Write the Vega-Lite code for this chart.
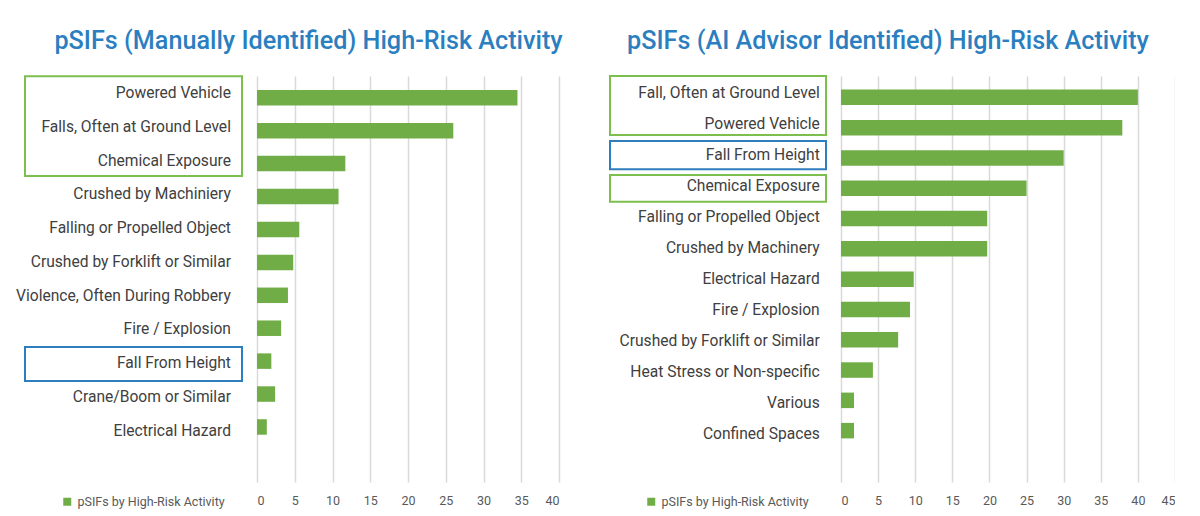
{
  "$schema": "https://vega.github.io/schema/vega-lite/v6.json",
  "background": "white",
  "padding": {"left": 16, "top": 28, "right": 0, "bottom": 0},
  "spacing": 46,
  "resolve": {"scale": {"color": "independent"}, "legend": {"color": "independent"}},
  "config": {
    "view": {"stroke": null},
    "title": {"font": "Roboto", "fontSize": 25.2, "fontWeight": 500, "color": "#2b7fc0", "anchor": "middle", "offset": 21},
    "text": {"font": "Roboto"}
  },
  "datasets": {
    "manual": [
      {"activity": "Powered Vehicle", "row": 0, "count": 34.5},
      {"activity": "Falls, Often at Ground Level", "row": 1, "count": 26},
      {"activity": "Chemical Exposure", "row": 2, "count": 11.7},
      {"activity": "Crushed by Machiniery", "row": 3, "count": 10.8},
      {"activity": "Falling or Propelled Object", "row": 4, "count": 5.6},
      {"activity": "Crushed by Forklift or Similar", "row": 5, "count": 4.8},
      {"activity": "Violence, Often During Robbery", "row": 6, "count": 4.1},
      {"activity": "Fire / Explosion", "row": 7, "count": 3.2},
      {"activity": "Fall From Height", "row": 8, "count": 1.9},
      {"activity": "Crane/Boom or Similar", "row": 9, "count": 2.4},
      {"activity": "Electrical Hazard", "row": 10, "count": 1.3}
    ],
    "manualBoxes": [
      {"group": "highlight", "from": -0.5, "to": 2.45},
      {"group": "fallFromHeight", "from": 7.52, "to": 8.53}
    ],
    "ai": [
      {"activity": "Fall, Often at Ground Level", "row": 0, "count": 40},
      {"activity": "Powered Vehicle", "row": 1, "count": 37.9},
      {"activity": "Fall From Height", "row": 2, "count": 30},
      {"activity": "Chemical Exposure", "row": 3, "count": 25},
      {"activity": "Falling or Propelled Object", "row": 4, "count": 19.7},
      {"activity": "Crushed by Machinery", "row": 5, "count": 19.7},
      {"activity": "Electrical Hazard", "row": 6, "count": 9.8},
      {"activity": "Fire / Explosion", "row": 7, "count": 9.3},
      {"activity": "Crushed by Forklift or Similar", "row": 8, "count": 7.7},
      {"activity": "Heat Stress or Non-specific", "row": 9, "count": 4.3},
      {"activity": "Various", "row": 10, "count": 1.75},
      {"activity": "Confined Spaces", "row": 11, "count": 1.75}
    ],
    "aiBoxes": [
      {"group": "highlight", "from": -0.54, "to": 1.36},
      {"group": "fallFromHeight", "from": 1.55, "to": 2.46},
      {"group": "highlight", "from": 2.65, "to": 3.51}
    ]
  },
  "hconcat": [
    {
      "title": {"text": "pSIFs (Manually Identified) High-Risk Activity", "dx": 21},
      "bounds": "flush",
      "spacing": 15,
      "resolve": {"scale": {"color": "independent"}, "legend": {"color": "independent"}},
      "hconcat": [
        {
          "width": 217,
          "height": 406,
          "layer": [
            {
              "data": {"name": "manualBoxes"},
              "mark": {"type": "rect", "fillOpacity": 0, "strokeWidth": 2},
              "encoding": {
                "y": {"field": "from", "type": "quantitative", "scale": {"domain": [-0.51, 11.52], "reverse": true, "nice": false, "zero": false}, "axis": null},
                "y2": {"field": "to"},
                "x": {"datum": 0, "type": "quantitative", "scale": {"domain": [0, 100], "nice": false}, "axis": null},
                "x2": {"datum": 100},
                "stroke": {"field": "group", "type": "nominal", "scale": {"domain": ["highlight", "fallFromHeight"], "range": ["#7dbf4f", "#2e7dbd"]}, "legend": null}
              }
            },
            {
              "data": {"name": "manual"},
              "mark": {"type": "text", "align": "right", "baseline": "middle", "font": "Roboto", "fontSize": 15.6, "color": "#404040"},
              "encoding": {
                "y": {"field": "row", "type": "quantitative"},
                "x": {"datum": 94.9, "type": "quantitative"},
                "text": {"field": "activity"}
              }
            }
          ]
        },
        {
          "width": 302,
          "height": 406,
          "data": {"name": "manual"},
          "mark": {"type": "bar", "orient": "horizontal", "size": 15.5},
          "encoding": {
            "y": {"field": "row", "type": "quantitative", "scale": {"domain": [-0.51, 11.52], "reverse": true, "nice": false, "zero": false}, "axis": null},
            "x": {"field": "count", "type": "quantitative", "scale": {"domain": [0, 40], "nice": false},
              "axis": {"values": [0, 5, 10, 15, 20, 25, 30, 35, 40], "grid": true, "domain": false, "ticks": false, "title": null, "labelPadding": 12, "labelFontSize": 12.5, "labelFont": "Roboto", "labelColor": "#595959", "gridColor": "#d9d9d9", "gridWidth": 1.5}},
            "color": {"datum": "pSIFs by High-Risk Activity", "type": "nominal", "scale": {"range": ["#70ad47"]},
              "legend": {"orient": "none", "legendX": -196, "legendY": 419.5, "title": null, "symbolType": "square", "symbolSize": 64, "symbolStrokeWidth": 0, "labelFontSize": 12.5, "labelFont": "Roboto", "labelColor": "#595959", "padding": 0}}
          }
        }
      ]
    },
    {
      "title": {"text": "pSIFs (AI Advisor Identified) High-Risk Activity", "dx": -4},
      "bounds": "flush",
      "spacing": 15,
      "resolve": {"scale": {"color": "independent"}, "legend": {"color": "independent"}},
      "hconcat": [
        {
          "width": 216,
          "height": 406,
          "layer": [
            {
              "data": {"name": "aiBoxes"},
              "mark": {"type": "rect", "fillOpacity": 0, "strokeWidth": 2},
              "encoding": {
                "y": {"field": "from", "type": "quantitative", "scale": {"domain": [-0.54, 12.53], "reverse": true, "nice": false, "zero": false}, "axis": null},
                "y2": {"field": "to"},
                "x": {"datum": 0, "type": "quantitative", "scale": {"domain": [0, 100], "nice": false}, "axis": null},
                "x2": {"datum": 100},
                "stroke": {"field": "group", "type": "nominal", "scale": {"domain": ["highlight", "fallFromHeight"], "range": ["#7dbf4f", "#2e7dbd"]}, "legend": null}
              }
            },
            {
              "data": {"name": "ai"},
              "mark": {"type": "text", "align": "right", "baseline": "middle", "font": "Roboto", "fontSize": 15.6, "color": "#404040"},
              "encoding": {
                "y": {"field": "row", "type": "quantitative"},
                "x": {"datum": 97.1, "type": "quantitative"},
                "text": {"field": "activity"}
              }
            }
          ]
        },
        {
          "width": 334,
          "height": 406,
          "data": {"name": "ai"},
          "mark": {"type": "bar", "orient": "horizontal", "size": 15.5},
          "encoding": {
            "y": {"field": "row", "type": "quantitative", "scale": {"domain": [-0.54, 12.53], "reverse": true, "nice": false, "zero": false}, "axis": null},
            "x": {"field": "count", "type": "quantitative", "scale": {"domain": [0, 45], "nice": false},
              "axis": {"values": [0, 5, 10, 15, 20, 25, 30, 35, 40, 45], "grid": true, "domain": false, "ticks": false, "title": null, "labelPadding": 12, "labelFontSize": 12.5, "labelFont": "Roboto", "labelColor": "#595959", "gridColor": "#d9d9d9", "gridWidth": 1.5}},
            "color": {"datum": "pSIFs by High-Risk Activity", "type": "nominal", "scale": {"range": ["#70ad47"]},
              "legend": {"orient": "none", "legendX": -196, "legendY": 419.5, "title": null, "symbolType": "square", "symbolSize": 64, "symbolStrokeWidth": 0, "labelFontSize": 12.5, "labelFont": "Roboto", "labelColor": "#595959", "padding": 0}}
          }
        }
      ]
    }
  ]
}
